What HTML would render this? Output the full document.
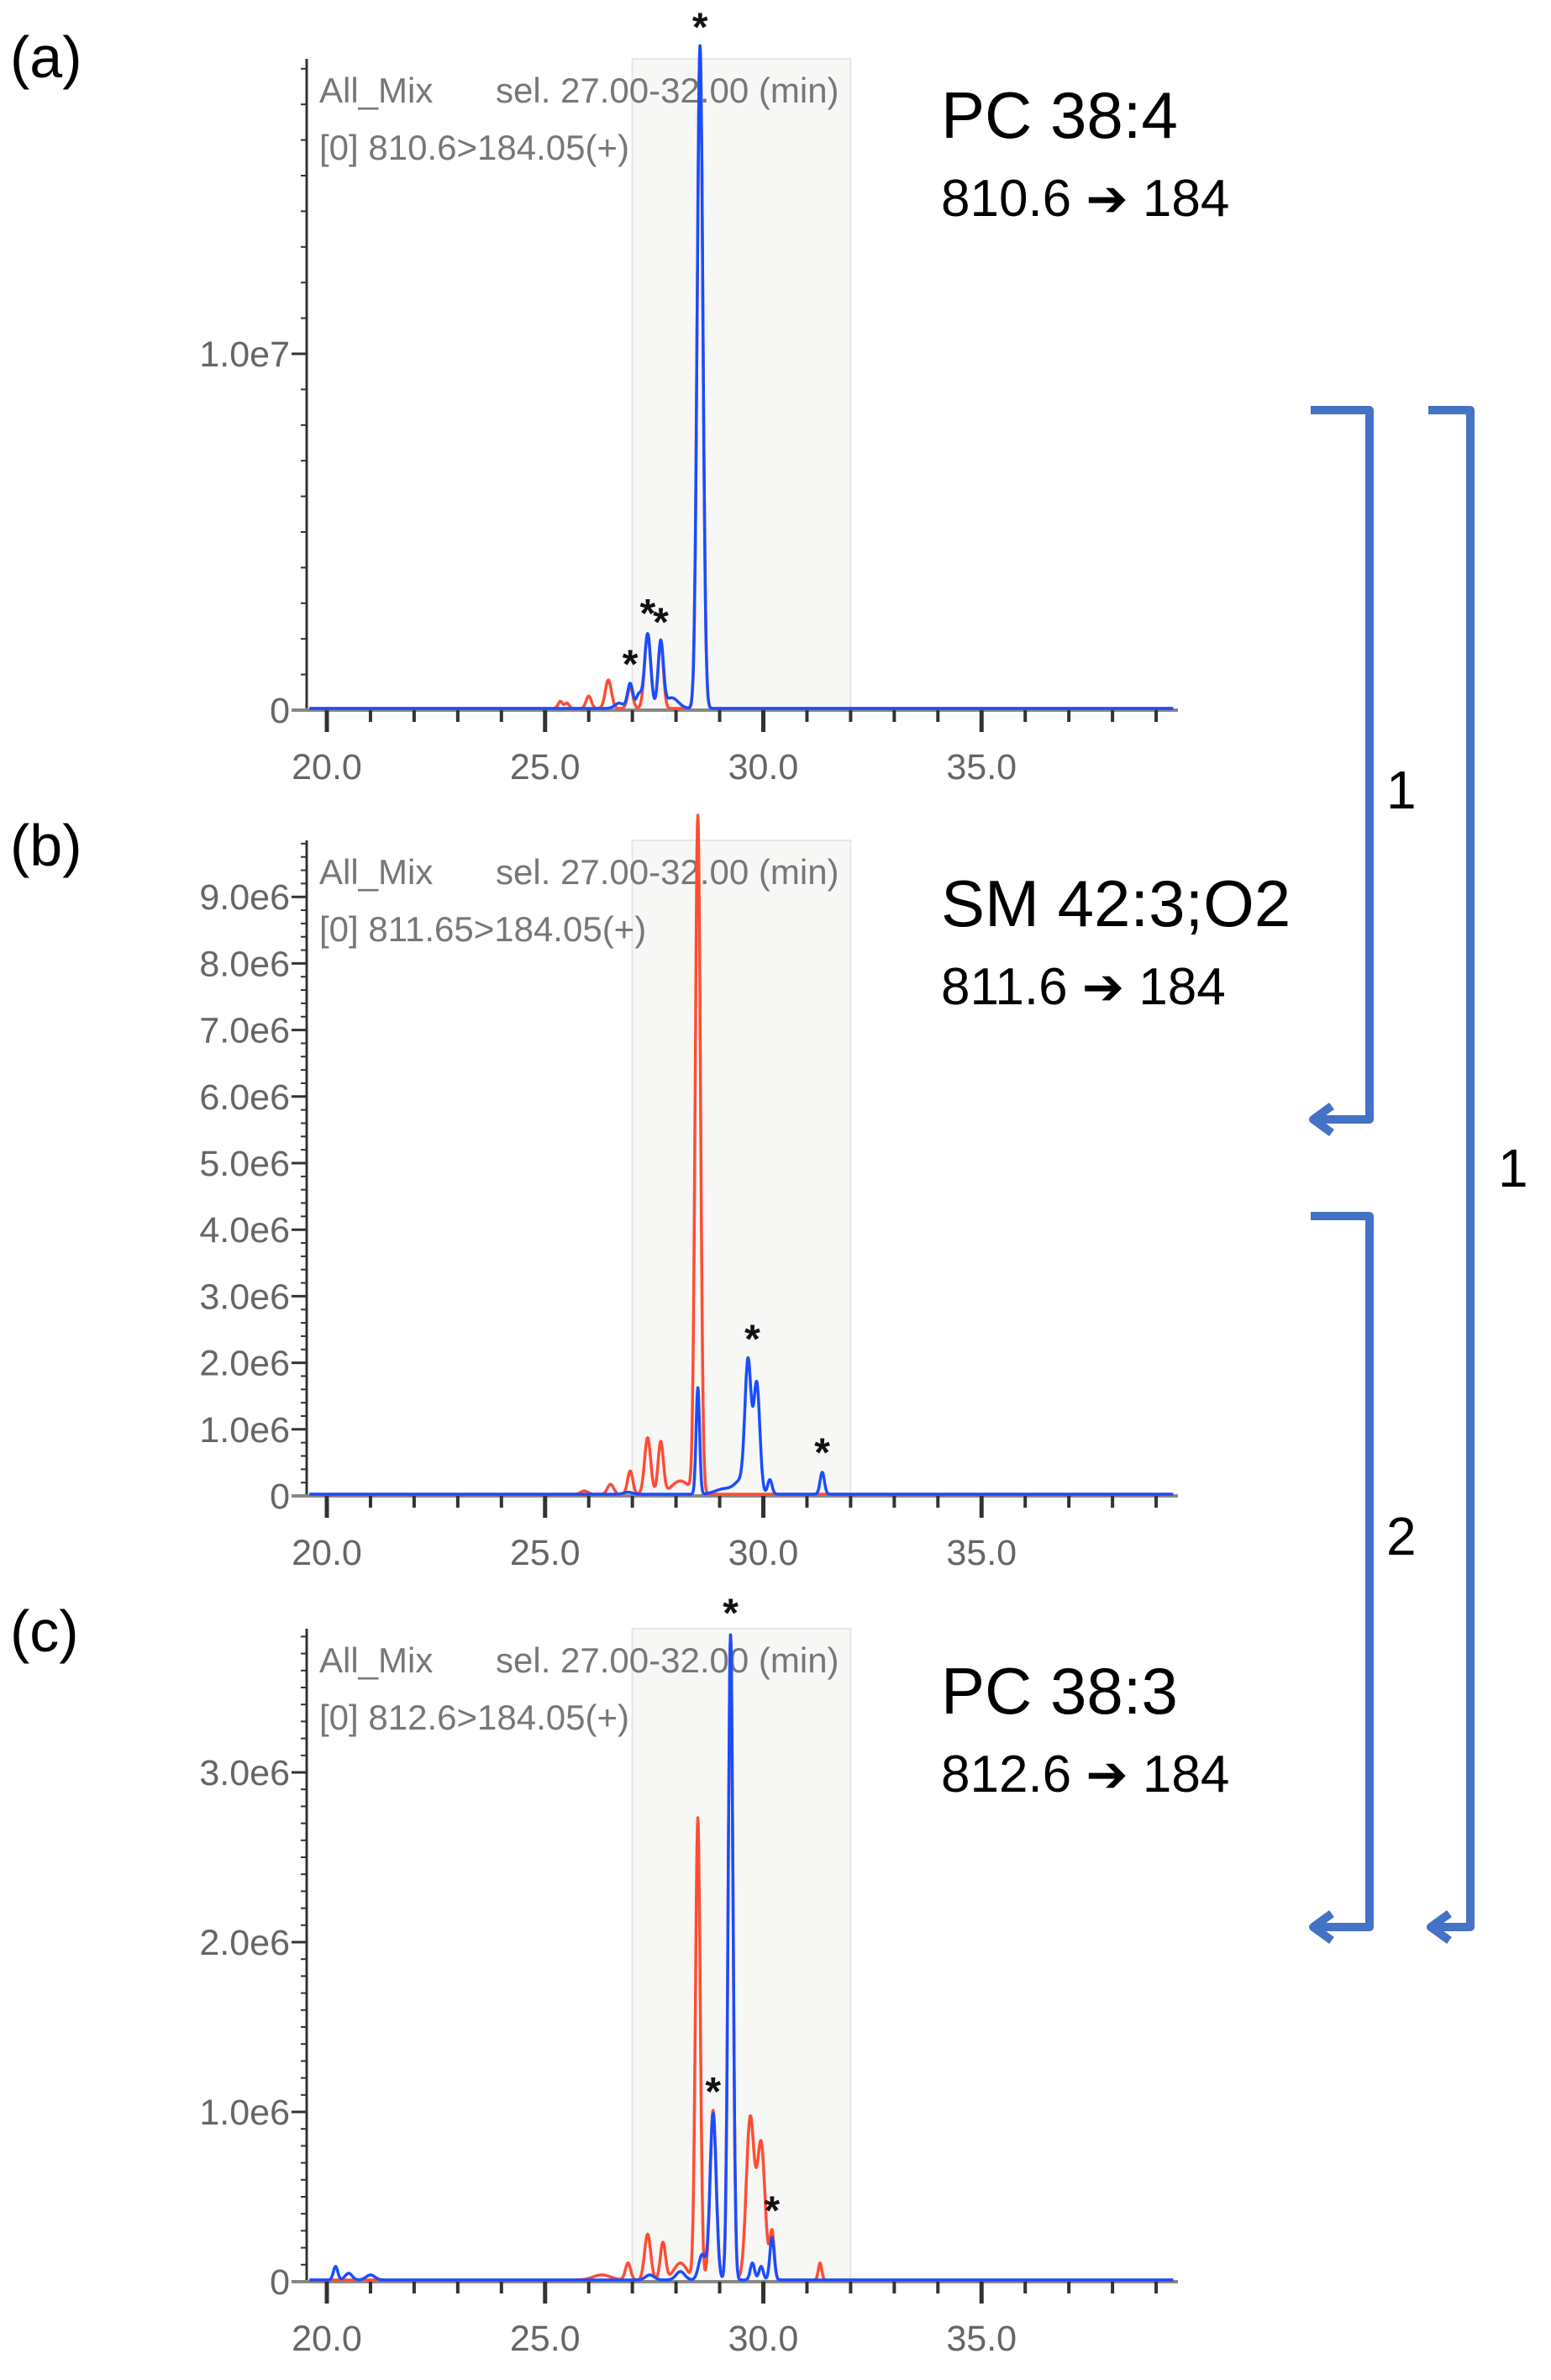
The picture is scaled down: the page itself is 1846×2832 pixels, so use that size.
<!DOCTYPE html>
<html><head><meta charset="utf-8">
<style>
html,body{margin:0;padding:0;background:#fff;}
svg{display:block;}
text{font-family:"Liberation Sans",sans-serif;}
</style></head>
<body>
<svg id="s" width="1846" height="2832" viewBox="0 0 1846 2832" xmlns="http://www.w3.org/2000/svg">
<text x="12" y="92" font-size="70" fill="#000">(a)</text>
<text x="12" y="1030" font-size="70" fill="#000">(b)</text>
<text x="12" y="1965" font-size="70" fill="#000">(c)</text>
<text x="1120" y="164" font-size="78" fill="#000">PC 38:4</text>
<text x="1120" y="257" font-size="62" fill="#000">810.6 <tspan font-family="DejaVu Sans" font-weight="bold" font-size="60">➔</tspan> 184</text>
<text x="1120" y="1102" font-size="78" fill="#000">SM 42:3;O2</text>
<text x="1120" y="1195" font-size="62" fill="#000">811.6 <tspan font-family="DejaVu Sans" font-weight="bold" font-size="60">➔</tspan> 184</text>
<text x="1120" y="2039" font-size="78" fill="#000">PC 38:3</text>
<text x="1120" y="2132" font-size="62" fill="#000">812.6 <tspan font-family="DejaVu Sans" font-weight="bold" font-size="60">➔</tspan> 184</text>
<g fill="none" stroke="#4472C4" stroke-width="10" stroke-linejoin="round">
<path d="M1560 488 L1630 488 L1630 1332 L1570 1332"/>
<path d="M1585 1316 L1563 1332 L1585 1348"/>
<path d="M1700 488 L1750 488 L1750 2293 L1710 2293"/>
<path d="M1725 2277 L1703 2293 L1725 2309"/>
<path d="M1560 1447 L1630 1447 L1630 2293 L1570 2293"/>
<path d="M1585 2277 L1563 2293 L1585 2309"/>
</g>
<text x="1650" y="962" font-size="64" fill="#000">1</text>
<text x="1783" y="1412" font-size="64" fill="#000">1</text>
<text x="1650" y="1850" font-size="64" fill="#000">2</text>
<g id="plots"></g>
</svg>
<script>
const NS="http://www.w3.org/2000/svg";
const g=document.getElementById('plots');
function el(n,a,t){const e=document.createElementNS(NS,n);for(const k in a)e.setAttribute(k,a[k]);if(t!==undefined)e.textContent=t;g.appendChild(e);return e;}
const X0=389,PX=51.95,AX=365,XR=1402;
const px=t=>X0+(t-20)*PX;
function gauss(peaks,t){let v=0;for(const p of peaks){const d=(t-p[0])/p[2];v+=p[1]*Math.exp(-0.5*d*d);}return v;}
function panel(o){
 const yb=o.yb,k=o.k,top=o.top;
 el('rect',{x:px(27),y:top,width:px(32)-px(27),height:yb-top,fill:'#f7f7f5',stroke:'#e6e6e6','stroke-width':2});
 el('line',{x1:AX,y1:top,x2:AX,y2:yb,stroke:'#333','stroke-width':3});
 for(let v=0;v*k<=yb-top;v+=o.minor){const y=yb-v*k;el('line',{x1:AX-7,y1:y,x2:AX,y2:y,stroke:'#333','stroke-width':2});}
 for(const [v,l] of o.labels){const y=yb-v*k;el('line',{x1:AX-18,y1:y,x2:AX,y2:y,stroke:'#333','stroke-width':3});
  el('text',{x:AX-20,y:y+15,'font-size':43,fill:'#666','text-anchor':'end'},l);}
 el('line',{x1:AX-18,y1:yb,x2:XR,y2:yb,stroke:'#888','stroke-width':4});
 for(let t=20;t<=39;t++){const x=px(t);const maj=t%5==0;el('line',{x1:x,y1:yb,x2:x,y2:yb+(maj?26:14),stroke:'#333','stroke-width':maj?5:4});
  if(maj&&t<=35)el('text',{x:x,y:yb+82,'font-size':43,fill:'#666','text-anchor':'middle'},t.toFixed(1));}
 el('text',{x:380,y:top+52,'font-size':42,fill:'#777'},'All_Mix');
 el('text',{x:590,y:top+52,'font-size':42,fill:'#777'},'sel. 27.00-32.00 (min)');
 el('text',{x:380,y:top+120,'font-size':42,fill:'#777'},o.sub);
 for(const [peaks,col] of [[o.red,'#ff4d33'],[o.blue,'#1a4dff']]){
  let d='';for(let t=19.6;t<=39.4;t+=0.01){let v=gauss(peaks,t);let y=yb-2-v*k;if(y<top-30)y=top-30;d+=(d?'L':'M')+px(t).toFixed(1)+' '+y.toFixed(1);}
  el('path',{d:d,fill:'none',stroke:col,'stroke-width':3.5,'stroke-linejoin':'round'});}
 for(const [t,v] of o.stars){el('text',{x:px(t),y:yb-v*k-8,'font-size':48,'font-weight':'bold',fill:'#111','text-anchor':'middle'},'*');}
}
panel({yb:845,k:42.4,top:70,minor:1,labels:[[0,'0'],[10,'1.0e7']],sub:'[0] 810.6>184.05(+)',
 red:[[25.35,0.2,0.05],[25.5,0.15,0.05],[26.0,0.35,0.06],[26.45,0.8,0.07],[26.95,0.6,0.06],[27.35,2.1,0.07],[27.65,1.85,0.06],[28.55,18.6,0.065]],
 blue:[[26.95,0.7,0.06],[27.15,0.4,0.06],[27.35,2.1,0.07],[27.65,1.85,0.06],[27.9,0.3,0.15],[28.55,18.6,0.065],[26.7,0.15,0.1]],
 stars:[[28.55,18.6],[26.95,0.72],[27.35,2.15],[27.65,1.9]]});
panel({yb:1780,k:79.2,top:1000,minor:0.2,labels:[[0,'0'],[1,'1.0e6'],[2,'2.0e6'],[3,'3.0e6'],[4,'4.0e6'],[5,'5.0e6'],[6,'6.0e6'],[7,'7.0e6'],[8,'8.0e6'],[9,'9.0e6']],sub:'[0] 811.65>184.05(+)',
 red:[[25.9,0.05,0.08],[26.5,0.15,0.07],[26.95,0.35,0.06],[27.35,0.85,0.07],[27.65,0.78,0.06],[28.1,0.2,0.2],[28.5,10.2,0.06]],
 blue:[[26.9,0.03,0.1],[28.5,1.6,0.04],[29.1,0.08,0.2],[29.5,0.2,0.15],[29.65,1.9,0.07],[29.85,1.65,0.07],[30.15,0.22,0.05],[31.35,0.33,0.05]],
 stars:[[29.75,2.05],[31.35,0.35]]});
panel({yb:2715,k:202,top:1938,minor:0.1,labels:[[0,'0'],[1,'1.0e6'],[2,'2.0e6'],[3,'3.0e6']],sub:'[0] 812.6>184.05(+)',
 red:[[26.3,0.03,0.2],[26.9,0.1,0.06],[27.35,0.27,0.07],[27.7,0.22,0.06],[28.1,0.1,0.15],[28.5,2.72,0.055],[28.85,1.0,0.07],[29.25,3.8,0.055],[29.7,0.95,0.09],[29.95,0.8,0.09],[30.2,0.28,0.05],[31.3,0.1,0.04]],
 blue:[[20.2,0.08,0.05],[20.5,0.04,0.08],[21.0,0.03,0.1],[27.4,0.03,0.1],[28.1,0.05,0.1],[28.85,0.98,0.07],[28.6,0.15,0.08],[29.25,3.8,0.055],[29.75,0.1,0.05],[29.95,0.08,0.05],[30.2,0.25,0.05]],
 stars:[[29.25,3.82],[28.85,1.0],[30.2,0.3]]});
</script>
</body></html>
